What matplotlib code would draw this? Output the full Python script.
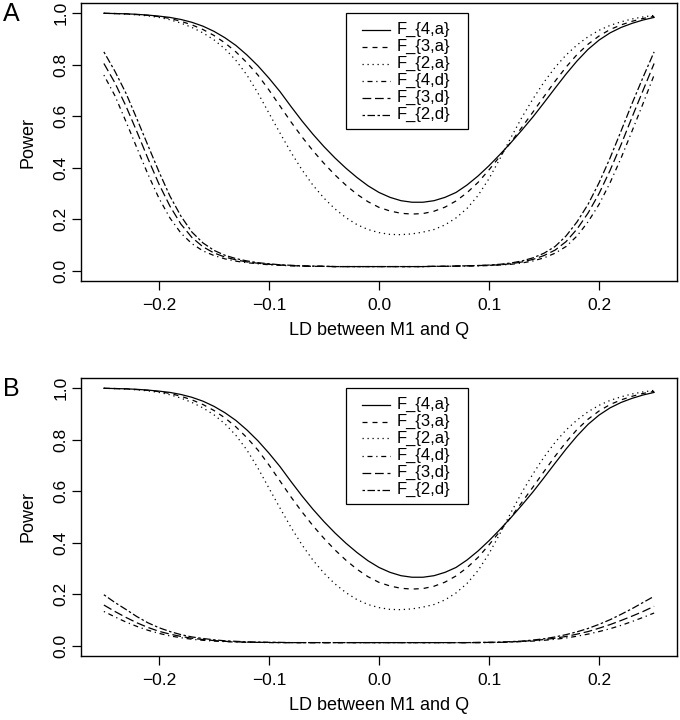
import matplotlib
matplotlib.use("Agg")
import matplotlib.pyplot as plt
from matplotlib.lines import Line2D
from matplotlib.patches import Rectangle

plt.rcParams['font.family'] = ['Liberation Sans', 'DejaVu Sans']

ld = [-0.25, -0.24, -0.23, -0.22, -0.21, -0.20, -0.19, -0.18, -0.17, -0.16,
      -0.15, -0.14, -0.13, -0.12, -0.11, -0.10, -0.09, -0.08, -0.07, -0.06,
      -0.05, -0.04, -0.03, -0.02, -0.01, 0.00, 0.01, 0.02, 0.03, 0.04,
      0.05, 0.06, 0.07, 0.08, 0.09, 0.10, 0.11, 0.12, 0.13, 0.14,
      0.15, 0.16, 0.17, 0.18, 0.19, 0.20, 0.21, 0.22, 0.23, 0.24, 0.25]

# additive tests (same in both panels)
f4a = [1.000, 0.999, 0.998, 0.996, 0.993, 0.989, 0.984, 0.976, 0.965, 0.950,
       0.930, 0.905, 0.875, 0.838, 0.796, 0.748, 0.696, 0.638, 0.582, 0.530,
       0.482, 0.438, 0.398, 0.362, 0.330, 0.304, 0.285, 0.272, 0.266, 0.266,
       0.272, 0.285, 0.304, 0.333, 0.368, 0.408, 0.452, 0.498, 0.547, 0.598,
       0.653, 0.709, 0.764, 0.815, 0.860, 0.896, 0.924, 0.945, 0.961, 0.974, 0.984]
f3a = [1.000, 0.999, 0.998, 0.995, 0.992, 0.987, 0.980, 0.969, 0.955, 0.937,
       0.914, 0.885, 0.850, 0.808, 0.760, 0.702, 0.640, 0.578, 0.520, 0.466,
       0.417, 0.372, 0.332, 0.297, 0.268, 0.246, 0.232, 0.223, 0.220, 0.222,
       0.231, 0.247, 0.271, 0.303, 0.343, 0.392, 0.445, 0.500, 0.558, 0.617,
       0.677, 0.736, 0.791, 0.840, 0.880, 0.912, 0.937, 0.955, 0.969, 0.980, 0.988]
f2a = [1.000, 0.999, 0.997, 0.994, 0.990, 0.984, 0.975, 0.962, 0.945, 0.924,
       0.897, 0.862, 0.817, 0.760, 0.690, 0.612, 0.535, 0.460, 0.392, 0.332,
       0.282, 0.240, 0.206, 0.179, 0.160, 0.148, 0.141, 0.140, 0.143, 0.150,
       0.160, 0.178, 0.205, 0.242, 0.292, 0.358, 0.436, 0.518, 0.597, 0.668,
       0.733, 0.790, 0.838, 0.877, 0.909, 0.934, 0.953, 0.967, 0.978, 0.986, 0.992]

# dominance tests, panel A
f4d_A = [0.760, 0.680, 0.580, 0.477, 0.375, 0.282, 0.205, 0.146, 0.105, 0.077,
         0.059, 0.046, 0.037, 0.031, 0.027, 0.023, 0.021, 0.019, 0.018, 0.017,
         0.017, 0.016, 0.016, 0.016, 0.016, 0.016, 0.016, 0.016, 0.016, 0.016,
         0.017, 0.017, 0.018, 0.018, 0.019, 0.020, 0.022, 0.025, 0.030, 0.038,
         0.050, 0.068, 0.094, 0.135, 0.190, 0.258, 0.342, 0.438, 0.543, 0.650, 0.760]
f3d_A = [0.805, 0.730, 0.640, 0.540, 0.436, 0.337, 0.251, 0.181, 0.129, 0.093,
         0.069, 0.053, 0.042, 0.034, 0.029, 0.025, 0.022, 0.020, 0.018, 0.017,
         0.017, 0.016, 0.016, 0.016, 0.016, 0.016, 0.016, 0.016, 0.016, 0.016,
         0.017, 0.017, 0.018, 0.019, 0.020, 0.021, 0.023, 0.027, 0.034, 0.044,
         0.059, 0.080, 0.113, 0.162, 0.224, 0.300, 0.390, 0.490, 0.597, 0.701, 0.805]
f2d_A = [0.850, 0.775, 0.690, 0.590, 0.487, 0.385, 0.290, 0.212, 0.150, 0.108,
         0.079, 0.060, 0.047, 0.038, 0.031, 0.027, 0.023, 0.021, 0.019, 0.018,
         0.017, 0.016, 0.016, 0.016, 0.016, 0.016, 0.016, 0.016, 0.016, 0.016,
         0.017, 0.017, 0.018, 0.019, 0.020, 0.022, 0.025, 0.030, 0.038, 0.050,
         0.068, 0.094, 0.135, 0.190, 0.258, 0.342, 0.438, 0.543, 0.650, 0.752, 0.850]

# dominance tests, panel B
f4d_B = [0.133, 0.112, 0.092, 0.075, 0.060, 0.048, 0.038, 0.031, 0.025, 0.021,
         0.018, 0.016, 0.014, 0.013, 0.013, 0.012, 0.012, 0.012, 0.012, 0.012,
         0.012, 0.012, 0.012, 0.012, 0.012, 0.012, 0.012, 0.012, 0.012, 0.012,
         0.012, 0.012, 0.012, 0.012, 0.012, 0.012, 0.013, 0.014, 0.016, 0.018,
         0.021, 0.025, 0.030, 0.037, 0.045, 0.055, 0.066, 0.079, 0.094, 0.110, 0.127]
f3d_B = [0.158, 0.133, 0.110, 0.089, 0.071, 0.056, 0.045, 0.036, 0.029, 0.024,
         0.020, 0.017, 0.015, 0.014, 0.013, 0.013, 0.012, 0.012, 0.012, 0.012,
         0.012, 0.012, 0.012, 0.012, 0.012, 0.012, 0.012, 0.012, 0.012, 0.012,
         0.012, 0.012, 0.012, 0.012, 0.012, 0.013, 0.013, 0.015, 0.017, 0.020,
         0.024, 0.029, 0.036, 0.045, 0.055, 0.068, 0.082, 0.098, 0.115, 0.133, 0.153]
f2d_B = [0.198, 0.168, 0.141, 0.113, 0.089, 0.070, 0.055, 0.043, 0.034, 0.028,
         0.023, 0.019, 0.017, 0.015, 0.014, 0.013, 0.013, 0.012, 0.012, 0.012,
         0.012, 0.012, 0.012, 0.012, 0.012, 0.012, 0.012, 0.012, 0.012, 0.012,
         0.012, 0.012, 0.012, 0.012, 0.013, 0.013, 0.014, 0.016, 0.018, 0.022,
         0.027, 0.034, 0.043, 0.054, 0.067, 0.083, 0.101, 0.122, 0.144, 0.168, 0.192]

labels = ["F_{4,a}", "F_{3,a}", "F_{2,a}", "F_{4,d}", "F_{3,d}", "F_{2,d}"]
styles = ['-', (0, (4, 4)), (0, (1, 3)), (0, (1, 3, 4, 3)), (0, (7, 3)), (0, (2, 2, 6, 2))]
xticks = [-0.2, -0.1, 0.0, 0.1, 0.2]
yticks = [0.0, 0.2, 0.4, 0.6, 0.8, 1.0]

W, H = 680, 720
LW = 0.9
fig = plt.figure(figsize=(6.8, 7.2), dpi=100)


def fx(px):
    return px / W


def fy(py):
    return 1 - py / H


def panel(top, bottom, series, letter, letter_y, xlabel_y):
    ax = fig.add_axes([fx(81), fy(bottom), 596 / W, (bottom - top) / H])
    for s, ls in zip(series, styles):
        ax.plot(ld, s, color='black', lw=LW, linestyle=ls)
    ax.set_xlim(-0.2708, 0.2708)
    ax.set_ylim(-0.04, 1.04)
    ax.set_xticks(xticks)
    ax.set_xticklabels([f"{t:.1f}".replace('-', '\u2212') for t in xticks])
    ax.set_yticks(yticks)
    ax.set_yticklabels([f"{t:.1f}" for t in yticks], rotation=90, va='center')
    ax.tick_params(direction='out', length=6.5, width=0.9, labelsize=12.5)
    ax.tick_params(axis='x', pad=5.5)
    ax.tick_params(axis='y', pad=2.5)
    for sp in ax.spines.values():
        sp.set_linewidth(1.0)

    # legend box
    bx0, bx1 = 346, 468
    by0 = top + 10
    by1 = by0 + 116
    fig.add_artist(Rectangle((fx(bx0), fy(by1)), (bx1 - bx0) / W, (by1 - by0) / H,
                             transform=fig.transFigure, facecolor='white',
                             edgecolor='black', lw=0.9, zorder=5))
    for i, (lab, ls) in enumerate(zip(labels, styles)):
        yc = by0 + 16.5 + 17 * i
        fig.add_artist(Line2D([fx(362), fx(390)], [fy(yc), fy(yc)],
                              transform=fig.transFigure, color='black',
                              lw=LW, linestyle=ls, zorder=6))
        fig.text(fx(397), fy(yc), lab, ha='left', va='center',
                 fontsize=12, zorder=6)

    fig.text(fx(28), fy((top + bottom) / 2), "Power", rotation=90,
             ha='center', va='center', fontsize=13)
    fig.text(fx(379), fy(xlabel_y), "LD between M1 and Q",
             ha='center', va='center', fontsize=13)
    fig.text(fx(11), fy(letter_y), letter, ha='center', va='center', fontsize=18)
    return ax


panel(3, 281, [f4a, f3a, f2a, f4d_A, f3d_A, f2d_A], "A", 14, 331)
panel(378, 656, [f4a, f3a, f2a, f4d_B, f3d_B, f2d_B], "B", 389, 705)

fig.savefig("out.png", dpi=100)
